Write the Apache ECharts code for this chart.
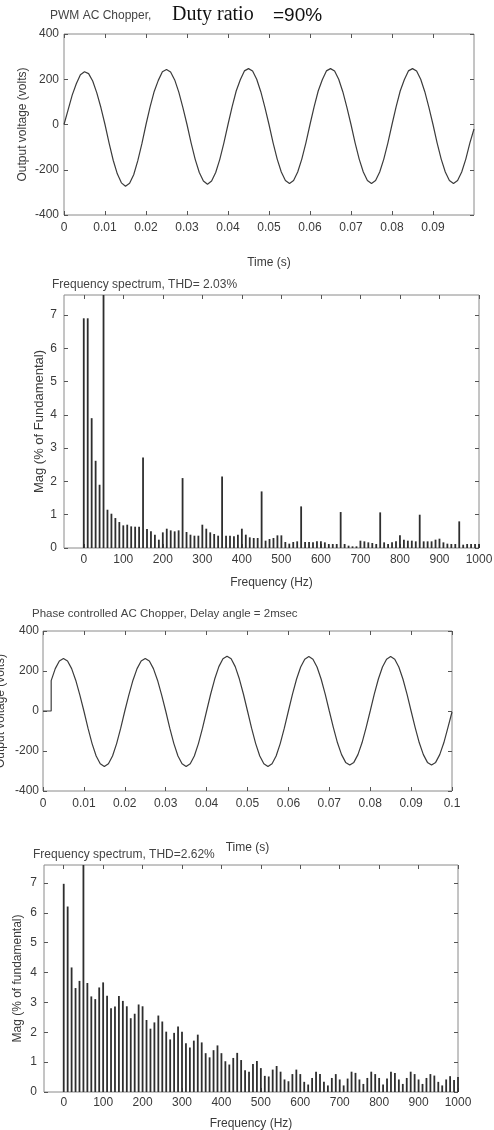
<!DOCTYPE html>
<html>
<head>
<meta charset="utf-8">
<script src="https://cdn.jsdelivr.net/npm/echarts@6.0.0/dist/echarts.min.js"></script>
<style>
  html, body { margin: 0; padding: 0; background: #fff; }
  #main { width: 494px; height: 1130px; }
</style>
</head>
<body>
<div id="main"></div>
<script>
// samples of the output voltage, one every millisecond (0 .. 0.1 s)
const sampleStep = 0.001
const pwmVoltage = [
  0, 65, 130, 180, 220, 233, 225, 192, 140, 75,
  0, -82, -158, -218, -258, -273, -260, -222, -160, -85,
  0, 78, 146, 195, 233, 243, 232, 197, 143, 75,
  0, -81, -154, -212, -250, -264, -250, -212, -154, -81,
  0, 78, 148, 198, 237, 247, 236, 200, 145, 76,
  0, -81, -153, -210, -248, -261, -248, -210, -153, -81,
  0, 78, 148, 198, 237, 247, 236, 200, 145, 76,
  0, -81, -153, -210, -248, -261, -248, -210, -153, -81,
  0, 78, 148, 198, 237, 247, 236, 200, 145, 76,
  0, -81, -153, -210, -248, -261, -248, -210, -153, -81,
  -20
]
const phaseDelay = 0.002      // firing instant, s
const phaseJump = 152         // voltage right after firing
const phaseVoltage = [
  0, 0, 0, 212, 250, 262, 250, 212, 154, 81,
  0, -86, -163, -225, -264, -278, -264, -225, -163, -86,
  0, 81, 154, 212, 250, 263, 250, 212, 154, 81,
  0, -86, -163, -225, -264, -278, -264, -225, -163, -86,
  0, 85, 161, 222, 261, 274, 261, 222, 161, 85,
  0, -86, -163, -225, -264, -278, -264, -225, -163, -86,
  0, 84, 160, 220, 259, 272, 259, 220, 160, 84,
  0, -83, -159, -218, -257, -270, -257, -218, -159, -83,
  0, 84, 160, 220, 259, 272, 259, 220, 160, 84,
  0, -83, -159, -218, -257, -270, -257, -218, -159, -83,
  -5
]

// harmonic spectra, one bar every 10 Hz (0 .. 1000 Hz), % of fundamental
const freqStep = 10
const pwmSpectrum = [
  6.9, 6.9, 3.9, 2.62, 1.9, 100, 1.15, 1.03, 0.9, 0.78,
  0.68, 0.7, 0.65, 0.64, 0.64, 2.72, 0.57, 0.5, 0.4, 0.25,
  0.47, 0.58, 0.53, 0.5, 0.53, 2.1, 0.48, 0.4, 0.37, 0.37,
  0.7, 0.58, 0.47, 0.42, 0.37, 2.15, 0.37, 0.37, 0.35, 0.4,
  0.58, 0.4, 0.32, 0.3, 0.3, 1.7, 0.22, 0.27, 0.3, 0.38,
  0.38, 0.18, 0.13, 0.18, 0.2, 1.25, 0.18, 0.18, 0.17, 0.2,
  0.2, 0.17, 0.12, 0.12, 0.12, 1.08, 0.12, 0.07, 0.05, 0.05,
  0.22, 0.2, 0.17, 0.15, 0.12, 1.07, 0.17, 0.12, 0.17, 0.2,
  0.38, 0.25, 0.22, 0.22, 0.2, 1.0, 0.2, 0.2, 0.2, 0.25,
  0.28, 0.17, 0.13, 0.12, 0.12, 0.8, 0.1, 0.12, 0.12, 0.12,
  0.12
]
const phaseSpectrum = [
  6.97, 6.21, 4.17, 3.48, 3.72, 100, 3.65, 3.2, 3.11, 3.5,
  3.67, 3.22, 2.8, 2.86, 3.21, 3.05, 2.87, 2.47, 2.62, 2.93,
  2.87, 2.41, 2.12, 2.33, 2.56, 2.36, 2.02, 1.76, 1.98, 2.19,
  2.02, 1.63, 1.49, 1.72, 1.92, 1.66, 1.3, 1.16, 1.4, 1.56,
  1.3, 1.03, 0.92, 1.14, 1.31, 1.07, 0.73, 0.68, 0.94, 1.04,
  0.8, 0.54, 0.52, 0.75, 0.87, 0.68, 0.42, 0.36, 0.6, 0.75,
  0.6, 0.34, 0.25, 0.47, 0.68, 0.6, 0.34, 0.22, 0.47, 0.6,
  0.42, 0.22, 0.45, 0.68, 0.64, 0.42, 0.27, 0.47, 0.68, 0.6,
  0.47, 0.25, 0.45, 0.68, 0.64, 0.42, 0.27, 0.47, 0.68, 0.6,
  0.42, 0.27, 0.47, 0.6, 0.55, 0.34, 0.22, 0.42, 0.53, 0.4,
  0.5
]

// tick labels
const pwmTimeTicks = [0, 0.01, 0.02, 0.03, 0.04, 0.05, 0.06, 0.07, 0.08, 0.09]
const phaseTimeTicks = [0, 0.01, 0.02, 0.03, 0.04, 0.05, 0.06, 0.07, 0.08, 0.09, 0.1]
const voltTicks = [-400, -200, 0, 200, 400]
const freqTicks = [0, 100, 200, 300, 400, 500, 600, 700, 800, 900, 1000]
const magTicks = [0, 1, 2, 3, 4, 5, 6, 7]

const FONT = "'Liberation Sans', Arial, sans-serif"
const textGray = '#3a3a3a'

const toPairs = (values, step) => values.map((v, i) => [+(i * step).toFixed(4), v])

const phasePairs = () => {
  const pts = toPairs(phaseVoltage, sampleStep)
  const k = Math.round(phaseDelay / sampleStep)
  pts.splice(k + 1, 0, [phaseDelay, phaseJump])
  return pts
}

// one grid = bottom/top x axes + left/right y axes (MATLAB box with ticks on every side)
const xAxes = []
const yAxes = []
const addAxes = (gridIndex, x, y) => {
  const tick = values => ({ show: true, inside: true, length: 4, customValues: values, lineStyle: { color: '#555' } })
  const label = (values, margin) => ({
    customValues: values, margin, color: textGray, fontFamily: FONT, fontSize: 12,
    formatter: v => String(v)
  })
  const noLine = { show: false, onZero: false }
  xAxes.push({
    type: 'value', gridIndex, position: 'bottom', min: x.min, max: x.max,
    axisLine: noLine, splitLine: { show: false },
    axisTick: tick(x.ticks), axisLabel: label(x.ticks, x.margin),
    name: x.name, nameLocation: 'middle', nameGap: x.nameGap, nameMoveOverlap: false,
    nameTextStyle: { color: textGray, fontFamily: FONT, fontSize: 12 }
  })
  xAxes.push({
    type: 'value', gridIndex, position: 'top', min: x.min, max: x.max,
    axisLine: noLine, splitLine: { show: false },
    axisTick: tick(x.ticks), axisLabel: { show: false }
  })
  yAxes.push({
    type: 'value', gridIndex, position: 'left', min: y.min, max: y.max,
    axisLine: noLine, splitLine: { show: false },
    axisTick: tick(y.ticks), axisLabel: label(y.ticks, y.margin),
    name: y.name, nameLocation: 'middle', nameGap: y.nameGap, nameRotate: 90, nameMoveOverlap: false,
    nameTextStyle: { color: textGray, fontFamily: FONT, fontSize: y.nameSize || 12 }
  })
  yAxes.push({
    type: 'value', gridIndex, position: 'right', min: y.min, max: y.max,
    axisLine: noLine, splitLine: { show: false },
    axisTick: tick(y.ticks), axisLabel: { show: false }
  })
}

addAxes(0,
  { min: 0, max: 0.1, ticks: pwmTimeTicks, margin: 7, name: 'Time (s)', nameGap: 42 },
  { min: -400, max: 400, ticks: voltTicks, margin: 5, name: 'Output voltage (volts)', nameGap: 35 })
addAxes(1,
  { min: -50, max: 1000, ticks: freqTicks, margin: 6, name: 'Frequency (Hz)', nameGap: 29 },
  { min: 0, max: 7.6, ticks: magTicks, margin: 7, name: 'Mag (% of Fundamental)', nameGap: 18, nameSize: 13 })
addAxes(2,
  { min: 0, max: 0.1, ticks: phaseTimeTicks, margin: 7, name: 'Time (s)', nameGap: 51 },
  { min: -400, max: 400, ticks: voltTicks, margin: 4, name: 'Output voltage (volts)', nameGap: 36 })
addAxes(3,
  { min: -50, max: 1000, ticks: freqTicks, margin: 5, name: 'Frequency (Hz)', nameGap: 26 },
  { min: 0, max: 7.6, ticks: magTicks, margin: 7, name: 'Mag (% of fundamental)', nameGap: 20 })

const boxGrid = (left, top, right, height) => ({
  left, top, right, height, show: true, borderColor: '#8a8a8a', borderWidth: 1, backgroundColor: '#fff',
  containLabel: false, outerBoundsMode: 'none'
})

const chart = echarts.init(document.getElementById('main'), null, { renderer: 'canvas' })
chart.setOption({
  animation: false,
  backgroundColor: '#fff',
  title: [
    { text: 'PWM AC Chopper,', left: 50, top: 10, padding: 0,
      textStyle: { color: '#444', fontFamily: FONT, fontSize: 12, fontWeight: 'normal' } },
    { text: 'Duty ratio', left: 172, top: 5, padding: 0,
      textStyle: { color: '#111', fontFamily: "'Liberation Serif', 'Times New Roman', serif", fontSize: 20, fontWeight: 'normal' } },
    { text: '=90%', left: 273, top: 6, padding: 0,
      textStyle: { color: '#111', fontFamily: FONT, fontSize: 19, fontWeight: 'normal' } },
    { text: 'Frequency spectrum, THD= 2.03%', left: 52, top: 279, padding: 0,
      textStyle: { color: '#444', fontFamily: FONT, fontSize: 12, fontWeight: 'normal' } },
    { text: 'Phase controlled AC Chopper, Delay angle = 2msec', left: 32, top: 608, padding: 0,
      textStyle: { color: '#444', fontFamily: FONT, fontSize: 11.5, fontWeight: 'normal' } },
    { text: 'Frequency spectrum, THD=2.62%', left: 33, top: 849, padding: 0,
      textStyle: { color: '#444', fontFamily: FONT, fontSize: 12, fontWeight: 'normal' } }
  ],
  grid: [
    boxGrid(64, 34, 20, 181),
    boxGrid(64, 295, 15, 253),
    boxGrid(43, 631, 42, 160),
    boxGrid(44, 865, 36, 227)
  ],
  xAxis: xAxes,
  yAxis: yAxes,
  series: [
    {
      type: 'line', xAxisIndex: 0, yAxisIndex: 0, showSymbol: false, silent: true,
      data: toPairs(pwmVoltage, sampleStep),
      lineStyle: { color: '#3c3c3c', width: 1.2 }
    },
    {
      type: 'bar', xAxisIndex: 2, yAxisIndex: 2, barWidth: 1.8, silent: true,
      data: toPairs(pwmSpectrum, freqStep),
      itemStyle: { color: '#2e2e2e' }
    },
    {
      type: 'line', xAxisIndex: 4, yAxisIndex: 4, showSymbol: false, silent: true,
      data: phasePairs(),
      lineStyle: { color: '#3c3c3c', width: 1.2 }
    },
    {
      type: 'bar', xAxisIndex: 6, yAxisIndex: 6, barWidth: 1.8, silent: true,
      data: toPairs(phaseSpectrum, freqStep),
      itemStyle: { color: '#2e2e2e' }
    }
  ]
})
</script>
</body>
</html>
